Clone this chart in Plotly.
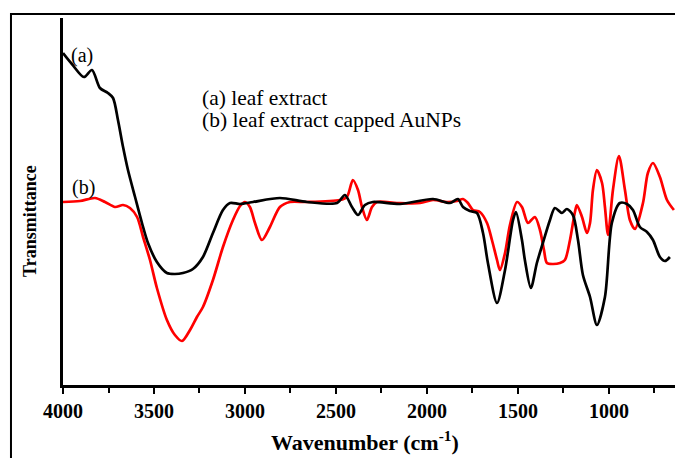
import plotly.graph_objects as go

# (a) leaf extract
wn_a = [4000, 3951, 3885, 3841, 3797, 3753, 3725, 3698, 3670, 3643, 3604, 3566, 3533, 3484,
        3429, 3385, 3341, 3286, 3231, 3176, 3121, 3082, 3027, 2956, 2808, 2659, 2494, 2451,
        2412, 2379, 2341, 2297, 2148, 1967, 1874, 1830, 1802, 1764, 1725, 1692, 1665, 1615,
        1571, 1527, 1511, 1478, 1462, 1429, 1396, 1363, 1324, 1297, 1258, 1231, 1198, 1170,
        1143, 1104, 1066, 1022, 984, 940, 901, 868, 830, 791, 758, 720, 692, 665]
t_a = [332, 321, 308, 315, 297, 292, 287, 265, 238, 215, 188, 162, 142, 123,
       112, 111, 112, 116, 128, 152, 175, 182, 181, 183, 187, 183, 182, 190,
       178, 170, 180, 183, 181, 186, 182, 186, 178, 174, 172, 152, 122, 82,
       115, 165, 173, 145, 125, 97, 122, 142, 165, 177, 172, 176, 170, 145,
       110, 88, 60, 88, 162, 182, 181, 175, 158, 153, 145, 128, 124, 128]

# (b) leaf extract capped AuNPs
wn_b = [4000, 3907, 3824, 3769, 3714, 3670, 3632, 3593, 3560, 3522, 3484, 3429, 3385, 3346,
        3302, 3264, 3231, 3176, 3121, 3066, 3027, 3000, 2973, 2945, 2907, 2863, 2808, 2753,
        2659, 2478, 2440, 2407, 2379, 2357, 2330, 2302, 2275, 2165, 2038, 1967, 1890, 1835,
        1802, 1775, 1747, 1709, 1670, 1643, 1615, 1599, 1571, 1544, 1505, 1478, 1445, 1407,
        1379, 1357, 1341, 1308, 1269, 1242, 1214, 1187, 1176, 1148, 1121, 1104, 1088, 1066,
        1038, 1022, 1005, 978, 945, 912, 885, 857, 813, 786, 758, 720, 681, 643]
t_b = [183, 184, 187, 183, 178, 180, 177, 168, 148, 125, 97, 65, 50, 44,
       55, 68, 78, 105, 138, 165, 179, 183, 178, 162, 145, 158, 178, 183,
       183, 185, 188, 205, 195, 178, 165, 178, 183, 182, 182, 185, 183, 184,
       186, 182, 175, 173, 162, 145, 125, 115, 132, 160, 183, 178, 162, 168,
       155, 135, 122, 121, 122, 125, 145, 173, 180, 168, 152, 162, 195, 215,
       202, 178, 150, 195, 229, 195, 165, 156, 182, 212, 222, 208, 185, 175]

x_ticks = [4000, 3500, 3000, 2500, 2000, 1500, 1000]
x_ticklabels = ["4000", "3500", "3000", "2500", "2000", "1500", "1000"]

FONT = "Liberation Serif"

fig = go.Figure()
fig.add_trace(go.Scatter(x=wn_b, y=t_b, mode="lines", name="(b)",
                         line=dict(color="#ff0000", width=2.7, shape="spline", smoothing=0.8)))
fig.add_trace(go.Scatter(x=wn_a, y=t_a, mode="lines", name="(a)",
                         line=dict(color="#000000", width=2.7, shape="spline", smoothing=0.8)))

fig.update_layout(
    width=675, height=458,
    margin=dict(l=63, r=0, t=18, b=73),
    paper_bgcolor="white", plot_bgcolor="white",
    showlegend=False,
    font=dict(family=FONT, color="black"),
)
fig.update_xaxes(
    range=[4000, 637], showgrid=False, zeroline=False,
    showline=True, linecolor="black", linewidth=2.5,
    ticks="outside", ticklen=6, tickwidth=2, tickcolor="black",
    tickvals=x_ticks, ticktext=x_ticklabels,
    tickfont=dict(family=FONT, size=20, color="black", weight="bold"),
    minor=dict(dtick=250, tick0=4000, ticks="outside", ticklen=5, tickwidth=2, tickcolor="black"),
)
fig.update_yaxes(
    range=[0, 367], showgrid=False, zeroline=False,
    showline=True, linecolor="black", linewidth=3,
    showticklabels=False, ticks="",
)

ann = [
    dict(text="<b>Wavenumber (cm<sup>-1</sup>)</b>", x=0.4935, y=-0.1526, font=dict(size=22)),
    dict(text="<b>Transmittance</b>", x=-0.0539, y=0.447, textangle=-90, font=dict(size=18)),
    dict(text="(a)", x=0.031, y=0.899, font=dict(size=20)),
    dict(text="(b)", x=0.0327, y=0.5395, font=dict(size=20)),
    dict(text="(a) leaf extract", x=0.2239, y=0.782, xanchor="left", font=dict(size=21.5)),
    dict(text="(b) leaf extract capped AuNPs", x=0.2239, y=0.722, xanchor="left", font=dict(size=21.5)),
]
for a in ann:
    a.setdefault("xanchor", "center")
    a.update(xref="paper", yref="paper", yanchor="middle", showarrow=False)
    a["font"] = dict(family=FONT, color="black", **a["font"])
    fig.add_annotation(**a)

fig.add_shape(type="rect", xref="paper", yref="paper",
              x0=-0.085, x1=1.2, y0=-0.4, y1=1.011,
              line=dict(color="black", width=2))

fig.write_html("out.html", config={"displayModeBar": False},
               post_script="document.body.style.margin='0';document.body.style.overflow='hidden';")
